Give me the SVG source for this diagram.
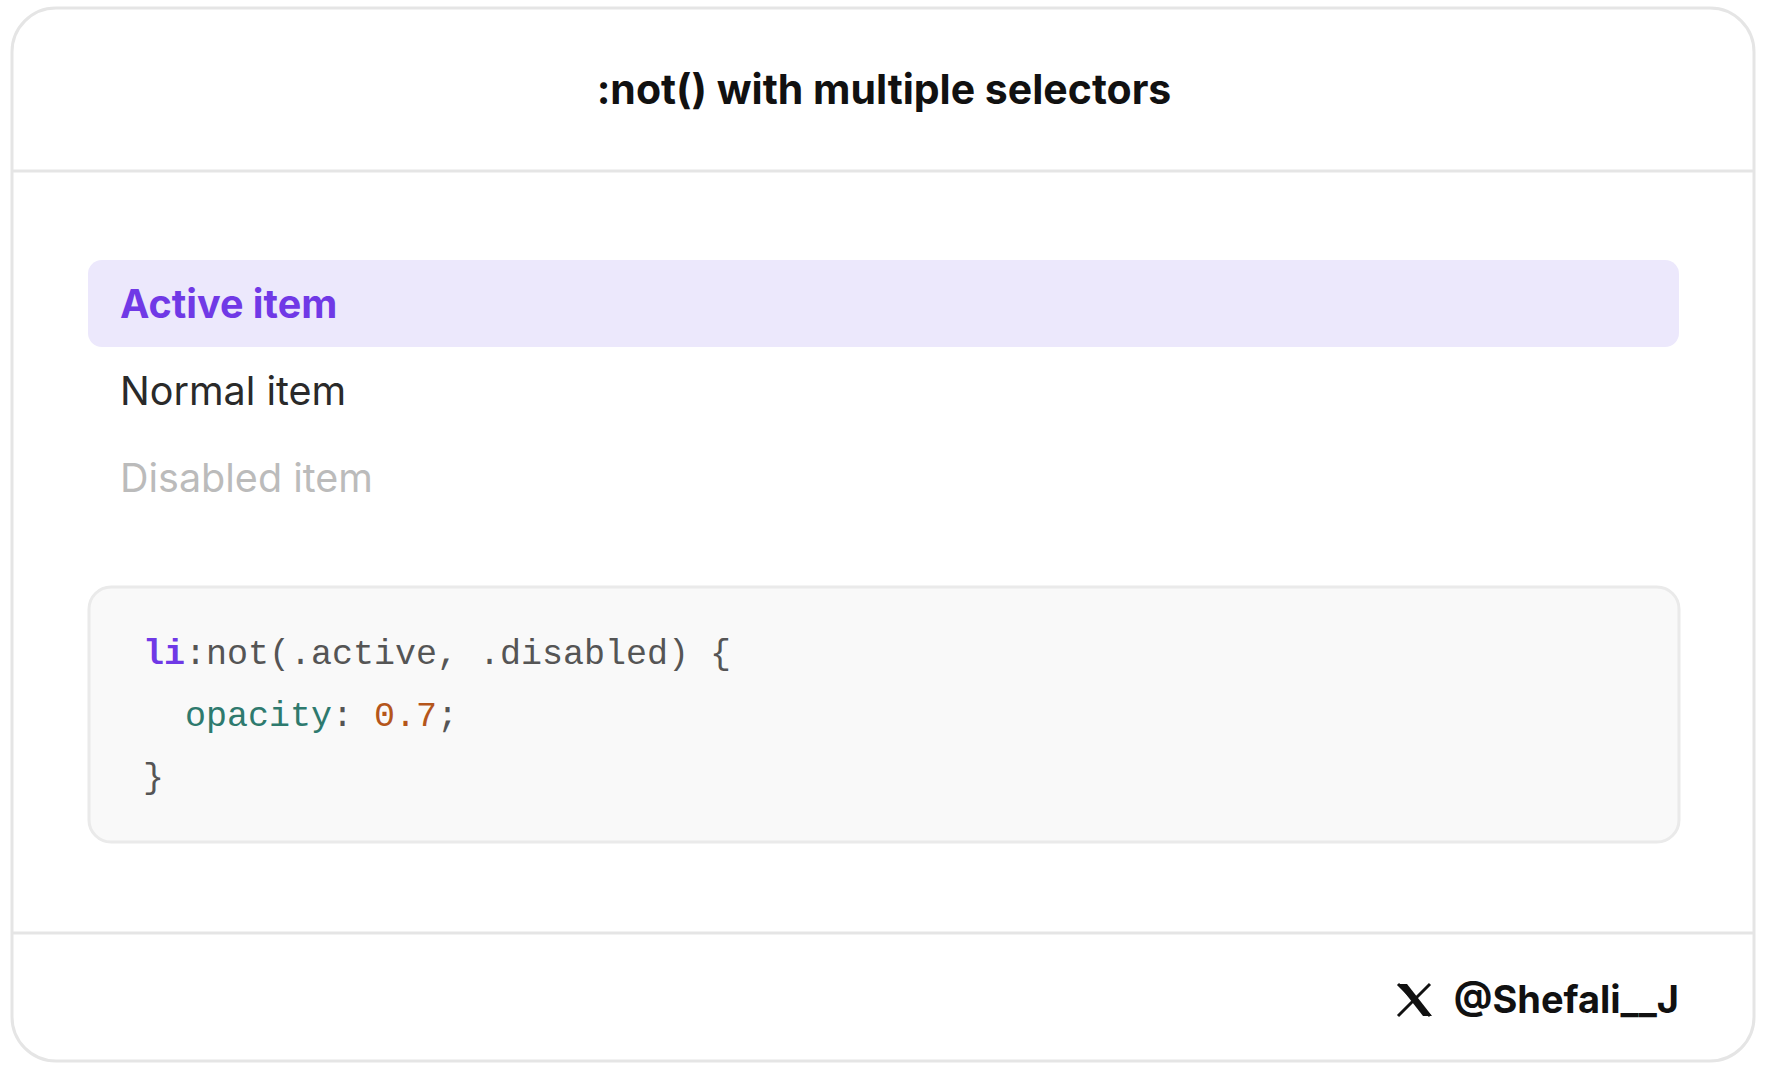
<svg xmlns="http://www.w3.org/2000/svg" width="1766" height="1070" viewBox="0 0 1766 1070">
<style>
.sans{font-family:Inter,"Liberation Sans",sans-serif}
.mono{font-family:"Liberation Mono","DejaVu Sans Mono",monospace;font-size:35px;fill:#555}
.line{stroke:#e5e5e5;stroke-width:3}
</style>
<rect width="1766" height="1070" fill="#fff"/>
<g id="card">
<rect x="12" y="8" width="1742" height="1053" rx="44" fill="#fff" stroke="#e5e5e5" stroke-width="3"/>
<line class="line" x1="12" y1="171" x2="1754" y2="171"/>
<line class="line" x1="12" y1="933" x2="1754" y2="933"/>
</g>
<g id="title"><text class="sans" x="884" y="104" text-anchor="middle" font-size="41" font-weight="700" fill="#111">:not() with multiple selectors</text></g>
<g id="active">
<rect x="88" y="260" width="1591" height="87" rx="14" fill="#ece8fc"/>
<text class="sans" x="120" y="318" font-size="39.5" font-weight="700" fill="#7039e6">Active item</text>
</g>
<g id="normal"><text class="sans" x="120" y="405" font-size="39.5" fill="#2a2a2a">Normal item</text></g>
<g id="disabled"><text class="sans" x="120" y="492" font-size="39.5" fill="#bbbbbb">Disabled item</text></g>
<g id="code">
<rect x="89" y="587" width="1590" height="255" rx="22" fill="#f9f9f9" stroke="#eaeaea" stroke-width="3"/>
<text class="mono" x="143" y="664"><tspan fill="#7039e6" font-weight="700">li</tspan>:not(.active, .disabled) {</text>
<text class="mono" x="185" y="726"><tspan fill="#2e7a6e">opacity</tspan>: <tspan fill="#b5561b">0.7</tspan>;</text>
<text class="mono" x="143" y="788">}</text>
</g>
<g id="footer">
<path d="M1398 984 L1430 1016 M1430 984 L1398 1016" stroke="#111" stroke-width="3" fill="none"/>
<path d="M1398 984 L1407 984 L1432 1016 L1423 1016 Z" fill="#111"/>
<text class="sans" x="1679" y="1013" text-anchor="end" font-size="38" font-weight="700" fill="#111">@Shefali__J</text>
</g>
</svg>
